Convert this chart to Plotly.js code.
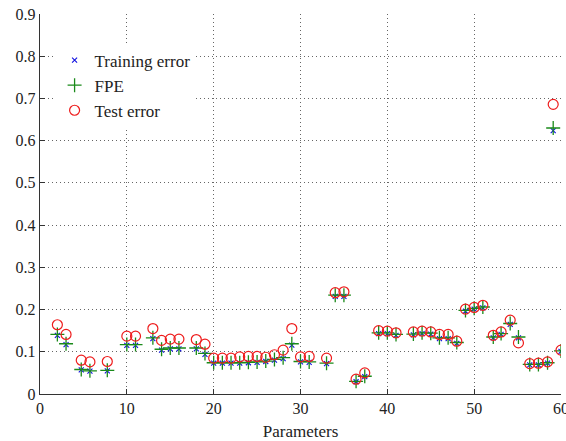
<!DOCTYPE html>
<html>
<head>
<meta charset="utf-8">
<script src="https://cdn.plot.ly/plotly-3.0.1.min.js"></script>
<style>
  html, body { margin: 0; padding: 0; background: #fff; }
  #chart { width: 566px; height: 441px; }
</style>
</head>
<body>
<div id="chart"></div>
<script>
// Parameter positions (x)
const params = [2, 3, 4.75, 5.75, 7.75, 10, 11, 13, 14, 15, 16, 18, 19, 20, 21, 22, 23, 24, 25, 26, 27, 28, 29, 30, 31, 33, 34, 35, 36.4, 37.4, 39, 40, 41, 43, 44, 45, 46, 47, 48, 49, 50, 51, 52.2, 53.1, 54.15, 55.1, 56.4, 57.4, 58.45, 59.1, 60];

const testError = [0.164, 0.141, 0.080, 0.076, 0.077, 0.137, 0.137, 0.155, 0.127, 0.130, 0.130, 0.129, 0.118, 0.085, 0.085, 0.085, 0.088, 0.089, 0.089, 0.087, 0.093, 0.104, 0.155, 0.088, 0.089, 0.085, 0.240, 0.242, 0.035, 0.050, 0.150, 0.149, 0.145, 0.147, 0.149, 0.147, 0.141, 0.141, 0.125, 0.201, 0.205, 0.210, 0.139, 0.147, 0.175, 0.121, 0.072, 0.073, 0.076, 0.686, 0.104];

const fpe = [0.141, 0.119, 0.058, 0.055, 0.056, 0.117, 0.117, 0.133, 0.106, 0.109, 0.109, 0.109, 0.096, 0.074, 0.074, 0.074, 0.074, 0.075, 0.076, 0.078, 0.082, 0.086, 0.119, 0.077, 0.076, 0.073, 0.234, 0.234, 0.030, 0.042, 0.145, 0.145, 0.141, 0.142, 0.145, 0.144, 0.133, 0.133, 0.122, 0.198, 0.203, 0.206, 0.135, 0.143, 0.167, 0.135, 0.070, 0.070, 0.074, 0.630, 0.102];

const trainingError = [0.139, 0.117, 0.057, 0.054, 0.055, 0.115, 0.115, 0.131, 0.104, 0.107, 0.107, 0.107, 0.094, 0.073, 0.073, 0.073, 0.073, 0.074, 0.075, 0.077, 0.080, 0.084, 0.116, 0.076, 0.075, 0.072, 0.231, 0.231, 0.029, 0.041, 0.143, 0.143, 0.139, 0.140, 0.143, 0.142, 0.131, 0.131, 0.120, 0.196, 0.201, 0.204, 0.133, 0.141, 0.165, 0.133, 0.069, 0.069, 0.073, 0.624, 0.101];

const seriesNames = ['Training error', 'FPE', 'Test error'];
const xTicks = [0, 10, 20, 30, 40, 50, 60];
const yTicks = [0, 0.1, 0.2, 0.3, 0.4, 0.5, 0.6, 0.7, 0.8, 0.9];

const serif = '"Liberation Serif", "DejaVu Serif", serif';

const traces = [
  {
    x: params, y: trainingError, name: seriesNames[0], type: 'scatter', mode: 'markers',
    marker: { symbol: 'x-thin-open', size: 5, color: '#1010e0', line: { color: '#1010e0', width: 1.1 } }
  },
  {
    x: params, y: fpe, name: seriesNames[1], type: 'scatter', mode: 'markers',
    marker: { symbol: 'cross-thin-open', size: 10, color: '#1a8a1a', line: { color: '#1a8a1a', width: 1.3 } }
  },
  {
    x: params, y: testError, name: seriesNames[2], type: 'scatter', mode: 'markers',
    marker: { symbol: 'circle-open', size: 10, color: '#ee1c1c', line: { color: '#ee1c1c', width: 1.2 } }
  }
];

const layout = {
  width: 566, height: 441,
  margin: { l: 40, r: 5, t: 14, b: 47 },
  paper_bgcolor: '#ffffff', plot_bgcolor: '#ffffff',
  font: { family: serif, size: 15, color: '#222' },
  showlegend: true,
  legend: {
    x: 0.028, y: 0.925, xanchor: 'left', yanchor: 'top',
    bgcolor: '#ffffff', borderwidth: 0,
    font: { family: serif, size: 17, color: '#222' },
    itemwidth: 30
  },
  xaxis: {
    range: [0, 60], tickvals: xTicks, ticktext: xTicks.map(String),
    showgrid: true, gridcolor: '#666', griddash: '1px,3px', gridwidth: 1,
    zeroline: false, showline: true, linecolor: '#333', linewidth: 1.2,
    ticks: 'inside', ticklen: 5, tickcolor: '#333',
    ticklabeloverflow: 'allow',
    tickfont: { family: serif, size: 16, color: '#222' },
    title: { text: 'Parameters', font: { family: serif, size: 17, color: '#222' }, standoff: 10 }
  },
  yaxis: {
    range: [0, 0.9], tickvals: yTicks, ticktext: yTicks.map(v => v === 0 ? '0' : v.toFixed(1)),
    showgrid: true, gridcolor: '#666', griddash: '1px,3px', gridwidth: 1,
    zeroline: false, showline: true, linecolor: '#333', linewidth: 1.2,
    ticks: 'inside', ticklen: 5, tickcolor: '#333',
    ticklabeloverflow: 'allow',
    tickfont: { family: serif, size: 16, color: '#222' }
  }
};

Plotly.newPlot('chart', traces, layout, { displayModeBar: false, staticPlot: true });
</script>
</body>
</html>
